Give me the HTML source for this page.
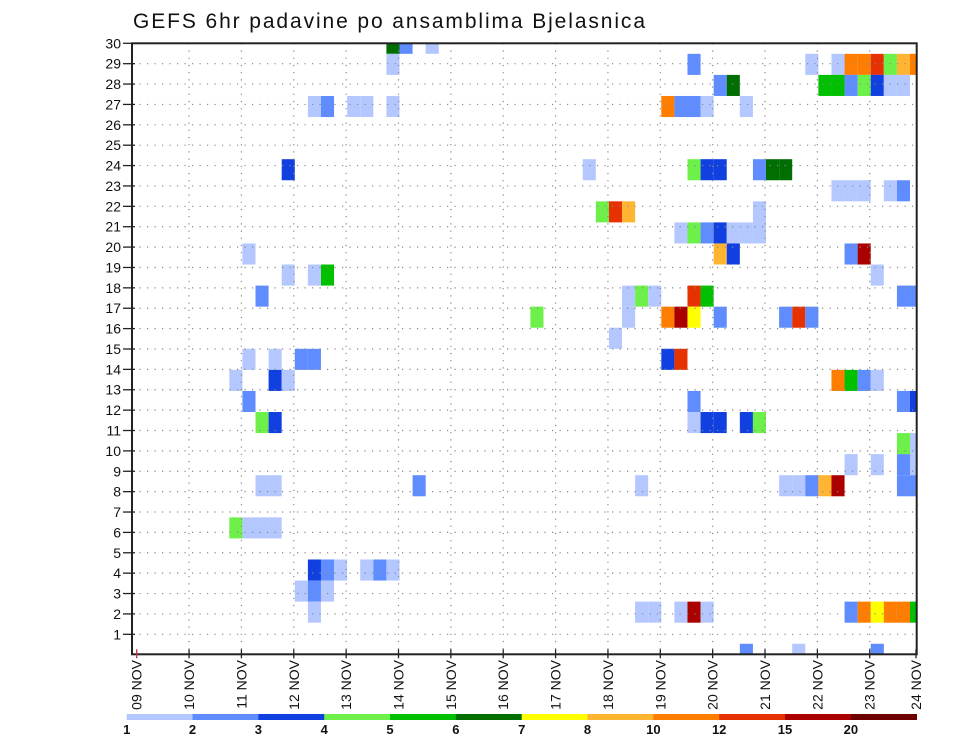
<!DOCTYPE html>
<html><head><meta charset="utf-8"><style>
html,body{margin:0;padding:0;background:#fff;}
svg{display:block;font-family:"Liberation Sans",sans-serif;}
</style></head><body>
<svg id="chart" width="960" height="742" viewBox="0 0 960 742" xmlns="http://www.w3.org/2000/svg">
<text x="133" y="28" font-size="21" textLength="512" fill="#111">GEFS 6hr padavine po ansamblima Bjelasnica</text>
<defs><clipPath id="pc"><rect x="132" y="43.3" width="784.7" height="611"/></clipPath></defs>
<g id="cells" clip-path="url(#pc)"></g>
<g id="grid"></g>
<g id="axes"></g>
<g id="cbar"></g>
</svg>
<script>
// data: ensemble member, 6-hr step index from 09 NOV 00z, precipitation value (mm)
const cellMember = [30,30,30, 29,29,29,29,29,29,29,29,29,29, 28,28,28,28,28,28,28,28,28, 27,27,27,27,27,27,27,27,27,27, 24,24,24,24,24,24,24,24, 23,23,23,23,23, 22,22,22,22, 21,21,21,21,21,21,21, 20,20,20,20,20, 19,19,19,19, 18,18,18,18,18,18,18,18, 17,17,17,17,17,17,17,17,17, 16, 15,15,15,15,15,15, 14,14,14,14,14,14,14, 13,13,13,13, 12,12,12,12,12,12,12, 11,11, 10,10,10,10, 9,9,9,9,9,9,9,9,9,9,9, 7,7,7,7, 5,5,5,5,5,5, 4,4,4, 3,3,3,3,3,3,3,3,3,3,3,3, 1,1,1];
const cellStep = [19,20,22, 19,42,51,53,54,55,56,57,58,59, 44,45,52,53,54,55,56,57,58, 13,14,16,17,19,40,41,42,43,46, 11,34,42,43,44,47,48,49, 53,54,55,57,58, 35,36,37,47, 41,42,43,44,45,46,47, 8,44,45,54,55, 11,13,14,56, 9,37,38,39,42,43,58,59, 30,37,40,41,42,44,49,50,51, 36, 8,10,12,13,40,41, 7,10,11,53,54,55,56, 8,42,58,59, 9,10,42,43,44,46,47, 58,59, 54,56,58,59, 9,10,21,38,49,50,51,52,53,58,59, 7,8,9,10, 13,14,15,17,18,19, 12,13,14, 13,38,39,41,42,43,54,55,56,57,58,59, 46,50,56];
const cellValue = [6.5,2.5,1.5, 1.5,2.5,1.5,1.5,11,11,13,4.5,9,11, 2.5,6.5,5.5,5.5,2.5,4.5,3.5,1.5,1.5, 1.5,2.5,1.5,1.5,1.5,11,2.5,2.5,1.5,1.5, 3.5,1.5,4.5,3.5,3.5,2.5,6.5,6.5, 1.5,1.5,1.5,1.5,2.5, 4.5,13,9,1.5, 1.5,4.5,2.5,3.5,1.5,1.5,1.5, 1.5,9,3.5,2.5,17, 1.5,1.5,5.5,1.5, 2.5,1.5,4.5,1.5,13,5.5,2.5,2.5, 4.5,1.5,11,17,7.5,2.5,2.5,13,2.5, 1.5, 1.5,1.5,2.5,2.5,3.5,13, 1.5,3.5,1.5,11,5.5,2.5,1.5, 2.5,2.5,2.5,3.5, 4.5,3.5,1.5,3.5,3.5,3.5,4.5, 4.5,1.5, 1.5,1.5,2.5,1.5, 1.5,1.5,2.5,1.5,1.5,1.5,2.5,9,17,2.5,2.5, 4.5,1.5,1.5,1.5, 3.5,2.5,1.5,1.5,2.5,1.5, 1.5,2.5,1.5, 1.5,1.5,1.5,1.5,17,1.5,2.5,11,7.5,11,11,5.5, 2.5,1.5,2.5];
const levels = [1,2,3,4,5,6,7,8,10,12,15,20];
const levelColors = ["#b4c8ff","#5f8cff","#1040e0","#6ef04a","#00c000","#006e00","#ffff00","#ffb432","#ff7d00","#e63200","#aa0000","#6e0000"];
const dayLabels = ["09","10","11","12","13","14","15","16","17","18","19","20","21","22","23","24"];
const memberTicks = [1,2,3,4,5,6,7,8,9,10,11,12,13,14,15,16,17,18,19,20,21,22,23,24,25,26,27,28,29,30];

const NS="http://www.w3.org/2000/svg";
const L=132,T=43.3,R=916.7,B=654.3;
const X0=136.7, DAYW=52.36, STEPW=DAYW/4;
const xStep = s => X0 + 1 + s*STEPW;          // left edge of 6-hr cell
const xDay = d => X0 + d*DAYW;
const CELLH=(B-T)/29;
const yMember = m => T + (30-m)*CELLH;        // cell centre
const yTick = r => T + (30-r)*((634.3-T)/29);
function colorOf(v){let i=0;for(let k=0;k<levels.length;k++){if(v>=levels[k])i=k;}return levelColors[i];}
function mk(tag,attrs,parent){const e=document.createElementNS(NS,tag);for(const k in attrs)e.setAttribute(k,attrs[k]);parent.appendChild(e);return e;}

const cells=document.getElementById('cells');
for(let i=0;i<cellValue.length;i++){
  const r=mk('rect',{x:xStep(cellStep[i]).toFixed(2),y:(yMember(cellMember[i])-CELLH/2).toFixed(2),width:STEPW.toFixed(2),height:CELLH.toFixed(2),fill:colorOf(cellValue[i])},cells);
  
  
}
const grid=document.getElementById('grid');
for(let r=1;r<30;r++){
  const y=yTick(r);
  mk('line',{x1:L,x2:R,y1:y,y2:y,stroke:'#888','stroke-width':1.2,'stroke-dasharray':'1.2 6.3'},grid);
}
for(let d=1;d<15;d++){
  const x=xDay(d);
  mk('line',{x1:x,x2:x,y1:T,y2:B,stroke:'#888','stroke-width':1.2,'stroke-dasharray':'1.2 6'},grid);
}
const axes=document.getElementById('axes');
mk('rect',{x:L,y:T,width:R-L,height:B-T,fill:'none',stroke:'#222','stroke-width':2},axes);
for(const r of memberTicks){
  const y=yTick(r);
  mk('line',{x1:123,x2:135,y1:y,y2:y,stroke:'#222','stroke-width':1.3},axes);
  const t=mk('text',{x:121,y:y+5,'text-anchor':'end','font-size':14,fill:'#111'},axes);
  t.textContent=r;
  
  
}
dayLabels.forEach((lab,d)=>{
  const x=Math.min(xDay(d),916);
  mk('line',{x1:x,x2:x,y1:B-5,y2:B+4,stroke:d==0?'#c33':'#222','stroke-width':1.3},axes);
  const t=mk('text',{x:0,y:0,'text-anchor':'end','font-size':14,fill:'#111',transform:'translate('+(x+5)+',660) rotate(-90)'},axes);
  t.textContent=lab+' NOV';
  
  
});
const cbar=document.getElementById('cbar');
const cbL=126.7, cbW=(916.7-126.7)/12;
levelColors.forEach((c,i)=>{
  const r=mk('rect',{x:cbL+i*cbW,y:714,width:cbW+0.3,height:6,fill:c},cbar);
  
  
  const t=mk('text',{x:cbL+i*cbW,y:734,'text-anchor':'middle','font-size':13,'font-weight':'bold',fill:'#111'},cbar);
  t.textContent=levels[i];
  
  
});
</script>
</body></html>
